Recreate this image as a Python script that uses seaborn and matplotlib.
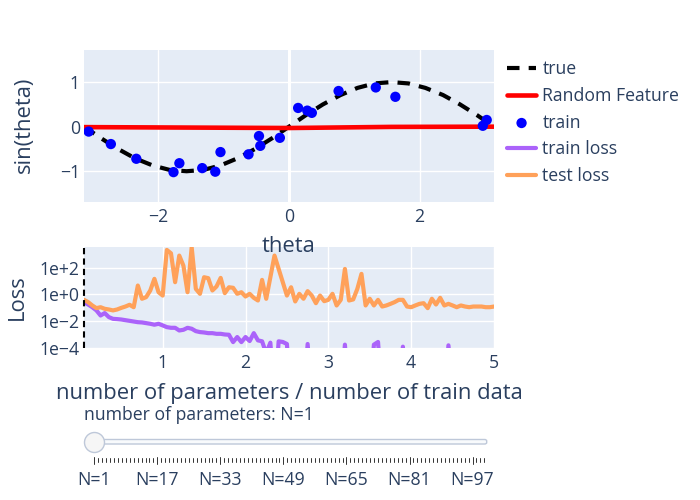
import numpy as np
import pandas as pd
import matplotlib
matplotlib.use("Agg")
import matplotlib.pyplot as plt
from matplotlib.lines import Line2D
from matplotlib.patches import FancyBboxPatch
from matplotlib.ticker import NullLocator
import seaborn as sns

# ---------------- data ----------------
true_theta = [-3.14, -2.88, -2.62, -2.36, -2.09, -1.83, -1.57, -1.31, -1.05, -0.79,
              -0.52, -0.26, 0.0, 0.26, 0.52, 0.79, 1.05, 1.31, 1.57, 1.83,
              2.09, 2.36, 2.62, 2.88, 3.14]
true_sin = [0.0, -0.26, -0.5, -0.71, -0.87, -0.97, -1.0, -0.97, -0.87, -0.71,
            -0.5, -0.26, 0.0, 0.26, 0.5, 0.71, 0.87, 0.97, 1.0, 0.97,
            0.87, 0.71, 0.5, 0.26, 0.0]

rf_theta = [-3.14, -1.57, 0.0, 1.57, 3.14]
rf_pred = [-0.01, -0.02, -0.03, -0.005, 0.0]

train_theta = [-3.07, -2.73, -2.34, -1.77, -1.68, -1.33, -1.13, -1.05, -0.62, -0.46,
               -0.44, -0.14, 0.14, 0.28, 0.35, 0.76, 1.33, 1.63, 2.97, 3.03]
train_sin = [-0.11, -0.39, -0.72, -1.02, -0.82, -0.93, -1.01, -0.57, -0.62, -0.21,
             -0.43, -0.25, 0.42, 0.36, 0.31, 0.80, 0.88, 0.67, 0.02, 0.15]

n_params = list(range(1, 101))
train_loss_log10 = [
    -0.57, -0.75, -0.95, -1.19, -1.57, -1.39, -1.69, -1.82, -1.84, -1.87,
    -1.92, -1.97, -2.02, -2.07, -2.09, -2.14, -2.19, -2.26, -2.19, -2.31,
    -2.44, -2.49, -2.49, -2.69, -2.64, -2.49, -2.56, -2.74, -2.81, -2.84,
    -2.89, -2.89, -2.94, -2.94, -2.99, -3.01, -3.56, -3.18, -3.56, -3.18,
    -3.48, -2.89, -3.43, -3.50, -4.40, -3.60, -8.0, -3.50, -3.55, -3.70,
    -8.0, -8.0, -8.0, -8.0, -3.70, -8.0, -8.0, -8.0, -8.0, -8.0,
    -8.0, -8.0, -8.0, -3.75, -8.0, -8.0, -8.0, -8.0, -8.0, -8.0,
    -3.75, -3.55, -8.0, -8.0, -8.0, -8.0, -8.0, -3.90, -8.0, -8.0,
    -8.0, -8.0, -8.0, -8.0, -8.0, -8.0, -8.0, -8.0, -3.80, -8.0,
    -8.0, -8.0, -8.0, -8.0, -8.0, -8.0, -8.0, -8.0, -8.0, -8.0]
test_loss_log10 = [
    -0.40, -0.57, -0.82, -1.02, -0.95, -1.07, -1.12, -1.19, -1.12, -1.00,
    -0.90, -0.77, -0.95, 0.67, -0.32, -0.20, 0.30, 1.17, 0.17, -0.08,
    3.33, 3.08, 0.92, 2.91, 2.16, 0.17, 3.53, 0.42, 0.05, 1.29,
    1.22, 0.30, 0.60, 1.24, 0.10, 0.54, 0.50, 0.05, 0.17, -0.15,
    0.05, -0.25, -0.45, 1.09, -0.32, 1.29, 2.91, 1.91, 0.92, -0.08,
    0.54, -0.52, 0.05, -0.32, 0.25, -0.08, -0.65, -0.08, -0.50, -0.40,
    0.05, -0.82, -0.40, 1.91, -0.45, -0.37, 0.42, 1.54, -0.82, -0.32,
    -0.82, -0.40, -0.90, -0.82, -0.70, -0.57, -0.40, -0.40, -0.90, -0.95,
    -0.82, -0.70, -0.65, -1.02, -0.32, -0.75, -0.25, -0.82, -0.70, -0.82,
    -0.95, -0.82, -0.90, -0.95, -0.90, -0.90, -0.90, -0.95, -0.95, -0.90]

current_N = 1
slider_label_N = [1, 17, 33, 49, 65, 81, 97]
slider_labels = ["N=1", "N=17", "N=33", "N=49", "N=65", "N=81", "N=97"]
loss_ticks = [1e-4, 1e-2, 1e0, 1e2]
loss_tick_labels = ["1e\u22124", "1e\u22122", "1e+0", "1e+2"]

# ---------------- style ----------------
sns.set_theme(style="white")
FONT = ["Open Sans", "DejaVu Sans"]
plt.rcParams["font.family"] = FONT
TXT = "#2a3f5f"
BG = "#E5ECF6"
TICK_FS = 12.7
TITLE_FS = 15.8

W, H = 700, 500
fig = plt.figure(figsize=(W / 100, H / 100), dpi=100)


def fx(px):
    return px / W


def fy(py):
    return 1 - py / H


n_train = len(train_theta)
ratio = [n / n_train for n in n_params]

df_true = pd.DataFrame({"theta": true_theta, "y": true_sin})
df_rf = pd.DataFrame({"theta": rf_theta, "y": rf_pred})
df_train = pd.DataFrame({"theta": train_theta, "y": train_sin})
df_loss = pd.DataFrame({
    "ratio": ratio,
    "train": [10 ** v for v in train_loss_log10],
    "test": [10 ** v for v in test_loss_log10],
})

# ---------------- top axes ----------------
ax1 = fig.add_axes([fx(84), fy(202), fx(410), 152 / H])
ax1.set_facecolor(BG)
ax1.set_axisbelow(True)
ax1.grid(True, color="white", lw=1)
ax1.axvline(0, color="white", lw=2.2, zorder=1)
ax1.axhline(0, color="white", lw=2.2, zorder=1)

sns.lineplot(data=df_true, x="theta", y="y", ax=ax1, color="black", lw=3,
             linestyle=(0, (3, 2.2)), sort=False, estimator=None, label="true")
sns.lineplot(data=df_rf, x="theta", y="y", ax=ax1, color="red", lw=3.3,
             sort=False, estimator=None, label="Random Feature")
sns.scatterplot(data=df_train, x="theta", y="y", ax=ax1, color="blue", s=55,
                edgecolor="none", label="train", zorder=3)

ax1.set_xlim(-np.pi, np.pi)
ax1.set_ylim(-1.69, 1.72)
ax1.set_xticks([-2, 0, 2])
ax1.set_yticks([-1, 0, 1])
ax1.set_xlabel("")
ax1.set_ylabel("")

# ---------------- bottom axes ----------------
ax2 = fig.add_axes([fx(84), fy(348), fx(410), 101 / H])
ax2.set_facecolor(BG)
ax2.set_axisbelow(True)
ax2.grid(True, color="white", lw=1)
sns.lineplot(data=df_loss, x="ratio", y="train", ax=ax2, color="#AB63FA", lw=3,
             sort=False, estimator=None, label="train loss")
sns.lineplot(data=df_loss, x="ratio", y="test", ax=ax2, color="#FFA15A", lw=3,
             sort=False, estimator=None, label="test loss")
ax2.set_yscale("log")
ax2.set_ylim(1e-4, 10 ** 3.55)
ax2.set_xlim(ratio[0], ratio[-1])
ax2.set_yticks(loss_ticks)
ax2.set_yticklabels(loss_tick_labels)
ax2.yaxis.set_minor_locator(NullLocator())
ax2.set_xticks([1, 2, 3, 4, 5])
ax2.set_xlabel("")
ax2.set_ylabel("")
ax2.axvline(current_N / n_train, color="black", lw=1.5, linestyle=(0, (3, 2)),
            clip_on=False, zorder=4)

for ax in (ax1, ax2):
    for s in ax.spines.values():
        s.set_visible(False)
    ax.tick_params(axis="both", length=0, labelsize=TICK_FS, labelcolor=TXT)
    ax.tick_params(axis="y", pad=3)
    ax.tick_params(axis="x", pad=4)

# ---------------- legend ----------------
h1, l1 = ax1.get_legend_handles_labels()
h2, l2 = ax2.get_legend_handles_labels()
for ax in (ax1, ax2):
    if ax.get_legend() is not None:
        ax.get_legend().remove()
leg = fig.legend(h1 + h2, l1 + l2, loc="upper left",
                 bbox_to_anchor=(fx(507), fy(60)), frameon=False,
                 fontsize=TICK_FS, handlelength=1.65, handletextpad=0.35,
                 labelspacing=0.5, borderaxespad=0, borderpad=0)
for t in leg.get_texts():
    t.set_color(TXT)

# ---------------- axis titles ----------------
fig.text(fx(24), fy(125), "sin(theta)", rotation=90, ha="center", va="center",
         fontsize=TITLE_FS, color=TXT)
fig.text(fx(17), fy(297), "Loss", rotation=90, ha="center", va="center",
         fontsize=TITLE_FS, color=TXT)
fig.text(fx(289), fy(247), "theta", ha="center", va="center",
         fontsize=TITLE_FS, color=TXT)
fig.text(fx(289), fy(394), "number of parameters / number of train data",
         ha="center", va="center", fontsize=TITLE_FS, color=TXT)

# ---------------- slider ----------------
fig.text(fx(84), fy(415), f"number of parameters: N={current_N}", ha="left",
         va="center", fontsize=TICK_FS, color=TXT)
rail = FancyBboxPatch((fx(85), fy(444)), fx(486.7 - 85), 4.5 / H,
                      boxstyle="round,pad=0,rounding_size=0.003",
                      transform=fig.transFigure, facecolor="#f8fafc",
                      edgecolor="#bec8d9", lw=1)
fig.add_artist(rail)

step_px = 3.94
first_px = 94.3


def npx(n):
    return first_px + (n - 1) * step_px


fig.add_artist(Line2D([fx(npx(current_N))], [fy(441.7)], marker="o",
                      markersize=14.4, markerfacecolor="#f6f6f6",
                      markeredgecolor="#bec8d9", markeredgewidth=1,
                      transform=fig.transFigure))
for n in n_params:
    major = n in slider_label_N
    y0, y1 = (456.7, 463.5) if major else (457.5, 461.5)
    fig.add_artist(Line2D([fx(npx(n))] * 2, [fy(y0), fy(y1)],
                          color="#333333", lw=0.7, transform=fig.transFigure))
for n, lab in zip(slider_label_N, slider_labels):
    fig.text(fx(npx(n)), fy(480), lab, ha="center", va="center",
             fontsize=TICK_FS, color=TXT)

fig.savefig("out.png", dpi=100)
